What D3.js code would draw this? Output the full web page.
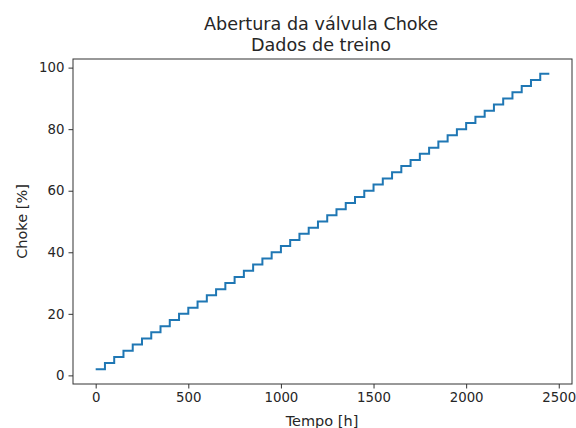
<!DOCTYPE html>
<html><head><meta charset="utf-8">
<script src="https://cdn.jsdelivr.net/npm/d3@7"></script>
<style>body{margin:0;background:#fff}text{font-family:"DejaVu Sans",sans-serif;fill:#262626}</style>
</head><body><svg id="c" width="576" height="428"></svg>
<script>
const stepStart = [0,50,100,150,200,250,300,350,400,450,500,550,600,650,700,750,800,850,900,950,1000,1050,1100,1150,1200,1250,1300,1350,1400,1450,1500,1550,1600,1650,1700,1750,1800,1850,1900,1950,2000,2050,2100,2150,2200,2250,2300,2350,2400];
const chokeValues = [2,4,6,8,10,12,14,16,18,20,22,24,26,28,30,32,34,36,38,40,42,44,46,48,50,52,54,56,58,60,62,64,66,68,70,72,74,76,78,80,82,84,86,88,90,92,94,96,98];
const tEnd = 2449;
const xTicks = [0,500,1000,1500,2000,2500];
const yTicks = [0,20,40,60,80,100];
const titleLines = ["Abertura da válvula Choke","Dados de treino"];

const svg = d3.select("#c");
const L=73,R=572,T=59,B=384;
const x = d3.scaleLinear().domain([-122.45,2571.45]).range([L,R]);
const y = d3.scaleLinear().domain([-2.8,102.8]).range([B,T]);
const pts = stepStart.map((t,i)=>[t,chokeValues[i]]);
pts.push([tEnd, chokeValues[chokeValues.length-1]]);

svg.append("path").datum(pts)
  .attr("fill","none").attr("stroke","#1f77b4").attr("stroke-width",2)
  .attr("d", d3.line().x(d=>x(d[0])).y(d=>y(d[1])).curve(d3.curveStepAfter));

const gx = svg.append("g").attr("transform",`translate(0,${B})`)
  .call(d3.axisBottom(x).tickValues(xTicks).tickSize(4.5).tickPadding(4).tickFormat(d3.format("d")));
const gy = svg.append("g").attr("transform",`translate(${L},0)`)
  .call(d3.axisLeft(y).tickValues(yTicks).tickSize(4.5).tickPadding(4).tickFormat(d3.format("d")));
[gx,gy].forEach(g=>{g.select(".domain").remove();g.selectAll("line").attr("stroke","#333");g.selectAll("text").attr("font-size",13.3).attr("font-family","DejaVu Sans").attr("fill","#262626");});
svg.append("rect").attr("x",L).attr("y",T).attr("width",R-L).attr("height",B-T)
  .attr("fill","none").attr("stroke","#333").attr("stroke-width",1);

svg.append("text").attr("x",321).attr("y",30).attr("text-anchor","middle").attr("font-size",17.6).text(titleLines[0]);
svg.append("text").attr("x",321).attr("y",51).attr("text-anchor","middle").attr("font-size",17.6).text(titleLines[1]);
svg.append("text").attr("x",322).attr("y",426).attr("text-anchor","middle").attr("font-size",14.5).text("Tempo [h]");
svg.append("text").attr("transform",`translate(27,${(T+B)/2}) rotate(-90)`).attr("text-anchor","middle").attr("font-size",14.5).text("Choke [%]");
</script></body></html>
